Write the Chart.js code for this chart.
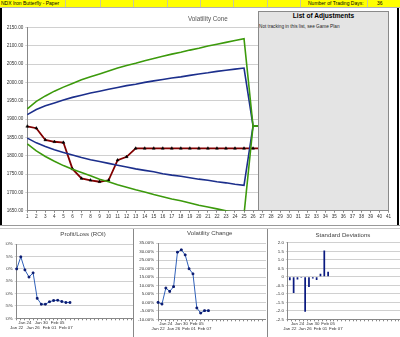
<!DOCTYPE html>
<html><head><meta charset="utf-8">
<script src="https://cdn.jsdelivr.net/npm/chart.js@4.4.0/dist/chart.umd.min.js"></script>
<style>
html,body{margin:0;padding:0;background:#fff;}
body{width:400px;height:337px;position:relative;overflow:hidden;font-family:"Liberation Sans",Arial,sans-serif;}
.abs{position:absolute;}
.clip{position:absolute;overflow:hidden;}
canvas{position:absolute;}
</style></head><body>

<div class="abs" style="left:0;top:0;width:400px;height:7px;background:#ffff00;border-bottom:1px solid #b0b0b0;"></div>
<div class="abs" id="hdrLines" style="left:0;top:0;width:400px;height:7px;"></div>
<div class="abs" style="left:1px;top:0;font-size:5px;line-height:7px;color:#000;">NDX Iron Butterfly - Paper</div>
<div class="abs" style="left:308px;top:0;font-size:5px;line-height:7px;color:#000;">Number of Trading Days:</div>
<div class="abs" style="left:377px;top:0;font-size:5px;line-height:7px;color:#000;">36</div>

<div class="clip" style="left:0;top:8px;width:398px;height:217px;">
  <canvas id="cone" width="398" height="217" style="left:0;top:0;"></canvas>
</div>
<div class="abs" style="left:0;top:8px;width:2px;height:217px;background:#000;"></div>
<div class="abs" style="left:397px;top:8px;width:2px;height:217px;background:#000;"></div>
<div class="abs" style="left:0;top:225px;width:400px;height:1px;background:#999;"></div>
<div class="abs" style="left:0;top:228px;width:400px;height:1px;background:#c8c8c8;"></div>

<div class="abs" style="left:258px;top:11px;width:129px;height:198px;background:#e4e4e4;border:1px solid #8a8a8a;">
  <div style="position:absolute;left:0;top:0;width:129px;text-align:center;font-weight:bold;font-size:6.6px;line-height:8px;color:#000;">List of Adjustments</div>
  <div style="position:absolute;left:0;top:12px;font-size:4.7px;line-height:6px;color:#222;white-space:nowrap;">Not tracking in this list, see Game Plan</div>
</div>

<div class="clip" style="left:0;top:229px;width:133px;height:108px;">
  <canvas id="roi" width="166" height="108" style="left:0;top:-1px;"></canvas>
</div>
<div class="clip" style="left:133px;top:229px;width:132px;height:108px;border-left:1px solid #888;">
  <canvas id="vol" width="180" height="108" style="left:-8px;top:-1px;"></canvas>
</div>
<div class="clip" style="left:267px;top:229px;width:133px;height:108px;border-left:1px solid #888;">
  <canvas id="sd" width="170" height="108" style="left:-8px;top:-1px;"></canvas>
</div>

<script>
// ---------------- data ----------------
const dayLabels = ['1','2','3','4','5','6','7','8','9','10','11','12','13','14','15','16','17','18','19','20','21','22','23','24','25','26','27','28','29','30','31','32','33','34','35','36','37','38','39','40','41'];
const upperOuter = [1928,1948,1963,1976,1987,1997,2007,2015,2023,2031,2039,2046,2052,2059,2065,2071,2077,2082,2088,2093,2099,2104,2109,2114,2119,1881,1881,1881,1881,1881,1881,1881,1881,1881,1881,1881,1881,1881,1881,1881,1881];
const upperInner = [1912,1926,1936,1944,1952,1959,1965,1971,1976,1981,1986,1991,1995,2000,2004,2008,2012,2015,2019,2023,2026,2030,2033,2036,2039,1881,1881,1881,1881,1881,1881,1881,1881,1881,1881,1881,1881,1881,1881,1881,1881];
const lowerInner = [1848,1835,1825,1816,1809,1802,1795,1789,1784,1779,1774,1769,1764,1760,1756,1751,1747,1744,1740,1736,1733,1729,1726,1722,1719,1881,1881,1881,1881,1881,1881,1881,1881,1881,1881,1881,1881,1881,1881,1881,1881];
const lowerOuter = [1832,1813,1798,1785,1773,1763,1754,1745,1736,1729,1721,1714,1707,1701,1694,1688,1682,1677,1671,1665,1660,1655,1650,1645,1640,1881,1881,1881,1881,1881,1881,1881,1881,1881,1881,1881,1881,1881,1881,1881,1881];
const price = [1880,1875,1843,1838,1836,1764,1738,1733,1729,1733,1788,1797,1820,1820,1820,1820,1820,1820,1820,1820,1820,1820,1820,1820,1820,1820,1820];
const coneTicks = [1650,1700,1750,1800,1850,1900,1950,2000,2050,2100,2150];

const tradeDates = ['Jan 22','Jan 23','Jan 24','Jan 25','Jan 26','Jan 29','Jan 30','Jan 31','Feb 01','Feb 02','Feb 05','Feb 06','Feb 07','Feb 08','','','','','','','','','','','','','','','','','','','','','',''];
const roi = [0,4.9,-0.4,-3.3,-1.6,-11.9,-14.3,-14.3,-13.3,-12.8,-12.7,-13.2,-13.6,-13.6];
const volChange = [0,-1,8.5,6.5,9.3,29.7,31.1,28.1,19.9,16.9,-3.3,-6.3,-4.9,-4.9];
const stdDevs = [-0.2,-0.95,-0.15,-0.05,-2.05,-0.6,-0.1,-0.18,0.18,1.55,0.3];

// ---------------- helpers ----------------
const FONT = '"Liberation Sans", Arial, sans-serif';
const hdr = document.getElementById('hdrLines');
[65,100,133,167,200,233,267,300,367].forEach(x=>{
  const d=document.createElement('div');
  d.style.cssText='position:absolute;top:0;height:7px;width:1px;background:#c8c8a0;left:'+x+'px';
  hdr.appendChild(d);
});

const G = '#3c9a0c', B = '#1c2f8c', R = '#800000';
function coneLine(data,color){return {data,borderColor:color,borderWidth:1.6,pointRadius:0,tension:0,fill:false};}

new Chart(document.getElementById('cone'),{
  type:'line',
  data:{labels:dayLabels,datasets:[
    coneLine(upperOuter,G),coneLine(lowerOuter,G),
    coneLine(upperInner,B),coneLine(lowerInner,B),
    {data:price,borderColor:R,borderWidth:1.8,pointStyle:'triangle',pointRadius:1.7,pointBackgroundColor:'#000',pointBorderColor:'#000',pointBorderWidth:0.5,tension:0}
  ]},
  options:{
    responsive:false,animation:false,devicePixelRatio:1,
    layout:{padding:{left:0,right:9.5,top:0,bottom:0}},
    plugins:{legend:{display:false},tooltip:{enabled:false},
      title:{display:true,fullSize:false,text:'Volatility Cone',color:'#555',font:{family:FONT,size:6.3,weight:'normal'},padding:{top:7,bottom:4.8}}},
    scales:{
      x:{offset:false,grid:{display:true,drawOnChartArea:false,tickLength:2,color:'#888'},border:{color:'#888'},
         ticks:{font:{family:FONT,size:4.6},color:'#333',maxRotation:0,autoSkip:false,padding:1},
         afterFit(s){s.height=14.3;}},
      y:{min:1650,max:2150,afterBuildTicks(s){s.ticks=coneTicks.map(v=>({value:v}));},
         ticks:{callback:v=>Number(v).toFixed(2),font:{family:FONT,size:4.6},color:'#333',padding:2},
         grid:{color:'#d0d0d0',tickLength:2},border:{color:'#888'},
         afterFit(s){s.width=27.3;}}
    }
  }
});

function dateTick(v,i){
  const t = tradeDates[i];
  if(!t || i%2) return '';
  return (i/2)%2===0 ? ['',t] : [t,''];
}
function smallLine(id,data,opts){
  return new Chart(document.getElementById(id),{
    type:'line',
    data:{labels:tradeDates,datasets:[{data,borderColor:'#3060b8',borderWidth:1,pointStyle:'rect',pointRadius:1.2,pointBackgroundColor:'#0a1a70',pointBorderColor:'#0a1a70',tension:0}]},
    options:{
      responsive:false,animation:false,devicePixelRatio:1,
      layout:{padding:{left:opts.pl,right:opts.pr,top:0,bottom:0}},
      plugins:{legend:{display:false},tooltip:{enabled:false},
        title:{display:true,text:opts.title,color:'#444',font:{family:FONT,size:6.1,weight:'normal'},padding:{top:opts.tt,bottom:opts.tb}}},
      scales:{
        x:{offset:false,grid:{display:true,drawOnChartArea:false,tickLength:2,color:'#888'},border:{color:'#888'},
           ticks:{font:{family:FONT,size:4.4},color:'#333',maxRotation:0,autoSkip:false,padding:0,callback:dateTick},
           afterFit(s){s.height=opts.xh;}},
        y:{min:opts.min,max:opts.max,ticks:{stepSize:opts.step,callback:opts.fmt,font:{family:FONT,size:4.4},color:'#333',padding:2},
           grid:{color:'#d0d0d0',tickLength:2},border:{color:'#888'},afterFit(s){s.width=opts.yw;}}
      }
    }
  });
}
smallLine('roi',roi,{title:'Profit/Loss (ROI)',pl:5.8,pr:5.8,yw:10.9,tt:2.6,tb:6.3,xh:17.7,min:-20,max:10,step:5,fmt:v=>v+'%'});
smallLine('vol',volChange,{title:'Volatility Change',pl:0,pr:12.4,yw:32.1,tt:1.6,tb:6.3,xh:16.7,min:-10,max:35,step:5,fmt:v=>Number(v).toFixed(2)+'%'});

new Chart(document.getElementById('sd'),{
  type:'bar',
  data:{labels:tradeDates,datasets:[{data:stdDevs,backgroundColor:'#0a1a80',barPercentage:0.5,categoryPercentage:0.9}]},
  options:{
    responsive:false,animation:false,devicePixelRatio:1,
    layout:{padding:{left:0,right:4.2,top:0,bottom:0}},
    plugins:{legend:{display:false},tooltip:{enabled:false},
      title:{display:true,text:'Standard Deviations',color:'#444',font:{family:FONT,size:6.1,weight:'normal'},padding:{top:3.3,bottom:4.3}}},
    scales:{
      x:{offset:true,grid:{display:true,drawOnChartArea:false,tickLength:2,color:'#888',offset:true},border:{color:'#888'},
         ticks:{font:{family:FONT,size:4.4},color:'#333',maxRotation:0,autoSkip:false,padding:0,callback:dateTick},
         afterFit(s){s.height=16.7;}},
      y:{min:-2.5,max:2,ticks:{stepSize:0.5,font:{family:FONT,size:4.4},color:'#333',padding:2},
         grid:{color:'#d0d0d0',tickLength:2},border:{color:'#888'},afterFit(s){s.width=27.9;}}
    }
  }
});
</script>
</body></html>
